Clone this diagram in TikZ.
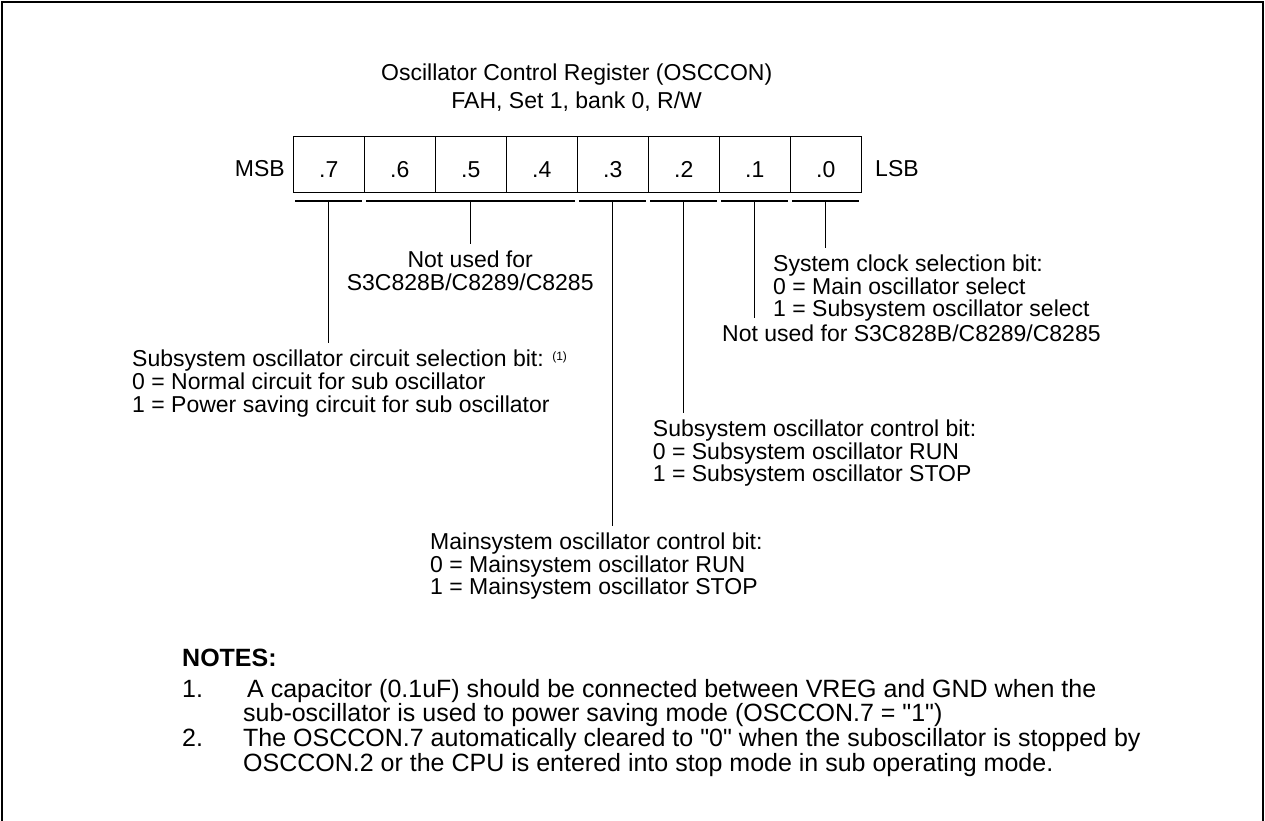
\documentclass[tikz,border=0pt]{standalone}
\usepackage{fontspec}
\newfontfamily\arial{Liberation Sans}
\begin{document}
\begin{tikzpicture}[x=1pt,y=-1pt,
  lab/.style={inner sep=0pt, align=left, anchor=north west, font=\arial\fontsize{23}{22.8}\selectfont},
  txt/.style={inner sep=0pt, font=\arial\fontsize{23}{22.8}\selectfont},
  note/.style={inner sep=0pt, anchor=base west, font=\arial\fontsize{25}{24.5}\selectfont},
  cell/.style={draw, line width=1.2pt, minimum width=71pt, minimum height=55.7pt, inner sep=0pt,
    text height=25.7pt, text depth=0pt, anchor=north west, font=\arial\fontsize{23}{22.8}\selectfont},
  brk/.style={line width=1.5pt},
  lead/.style={line width=1.2pt, shorten >=7pt},
  frame/.style={line width=2pt}]
\useasboundingbox (0,0) rectangle (1265,820);
\draw[frame] (2,830) -- (2,2) -- (1263,2) -- (1263,830);

% title
\node[txt, anchor=base] (title) at (576.7,80) {Oscillator Control Register (OSCCON)};
\node[txt, anchor=base] (addr) at (576.7,108) {FAH, Set 1, bank 0, R/W};

% register cells
\foreach \b [count=\i from 0] in {7,6,5,4,3,2,1,0}
  \node[cell] (c\b) at (292.7+71*\i,136) {.\b};
\node[txt, anchor=base east] (msb) at (285,176.7) {MSB};
\node[txt, anchor=base west] (lsb) at (875,176.7) {LSB};

% brackets
\draw[brk] ([shift={(2.5pt,-8.3pt)}]c7.south west) -- ([shift={(-2.5pt,-8.3pt)}]c7.south east);
\draw[brk] ([shift={(2.5pt,-8.3pt)}]c6.south west) -- ([shift={(-2.5pt,-8.3pt)}]c4.south east);
\draw[brk] ([shift={(2.5pt,-8.3pt)}]c3.south west) -- ([shift={(-2.5pt,-8.3pt)}]c3.south east);
\draw[brk] ([shift={(2.5pt,-8.3pt)}]c2.south west) -- ([shift={(-2.5pt,-8.3pt)}]c2.south east);
\draw[brk] ([shift={(2.5pt,-8.3pt)}]c1.south west) -- ([shift={(-2.5pt,-8.3pt)}]c1.south east);
\draw[brk] ([shift={(2.5pt,-8.3pt)}]c0.south west) -- ([shift={(-2.5pt,-8.3pt)}]c0.south east);

\coordinate (m7) at ([yshift=-8.3pt]c7.south);
\coordinate (m64) at ([yshift=-8.3pt]c5.south);
\coordinate (m3) at ([yshift=-8.3pt]c3.south);
\coordinate (m2) at ([yshift=-8.3pt]c2.south);
\coordinate (m1) at ([yshift=-8.3pt]c1.south);
\coordinate (m0) at ([yshift=-8.3pt]c0.south);

% labels
\node[lab, anchor=north, align=center] (nu1) at (470.2,250.5) {Not used for\\S3C828B/C8289/C8285};
\node[lab] (sysclk) at (773,254.5) {System clock selection bit:\\0 = Main oscillator select\\1 = Subsystem oscillator select};
\node[lab] (nu2) at (722,324.5) {Not used for S3C828B/C8289/C8285};
\node[lab] (circsel) at (132,350) {Subsystem oscillator circuit selection bit: \raisebox{6pt}{\fontsize{12}{12}\selectfont(1)}\\0 = Normal circuit for sub oscillator\\1 = Power saving circuit for sub oscillator};
\node[lab] (subctl) at (652.7,419.5) {Subsystem oscillator control bit:\\0 = Subsystem oscillator RUN\\1 = Subsystem oscillator STOP};
\node[lab] (mainctl) at (430,532.5) {Mainsystem oscillator control bit:\\0 = Mainsystem oscillator RUN\\1 = Mainsystem oscillator STOP};

% leaders
\draw[lead] (m7) -- (m7 |- circsel.north);
\draw[lead] (m64) -- (m64 |- nu1.north);
\draw[lead] (m3) -- (m3 |- mainctl.north);
\draw[lead] (m2) -- (m2 |- subctl.north);
\draw[lead] (m1) -- (m1 |- nu2.north);
\draw[lead] (m0) -- (m0 |- sysclk.north);

% notes
\node[note, font=\arial\bfseries\fontsize{25}{24.5}\selectfont] (notes) at (182,666.7) {NOTES:};
\node[note] (n1) at (182,697) {1.};
\node[note] (n1a) at (247,697) {A capacitor (0.1uF) should be connected between VREG and GND when the};
\node[note] (n1b) at (243,721) {sub-oscillator is used to power saving mode (OSCCON.7 = "1")};
\node[note] (n2) at (182,746) {2.};
\node[note] (n2a) at (243,746) {The OSCCON.7 automatically cleared to "0" when the suboscillator is stopped by};
\node[note] (n2b) at (243,771) {OSCCON.2 or the CPU is entered into stop mode in sub operating mode.};
\end{tikzpicture}
\end{document}
